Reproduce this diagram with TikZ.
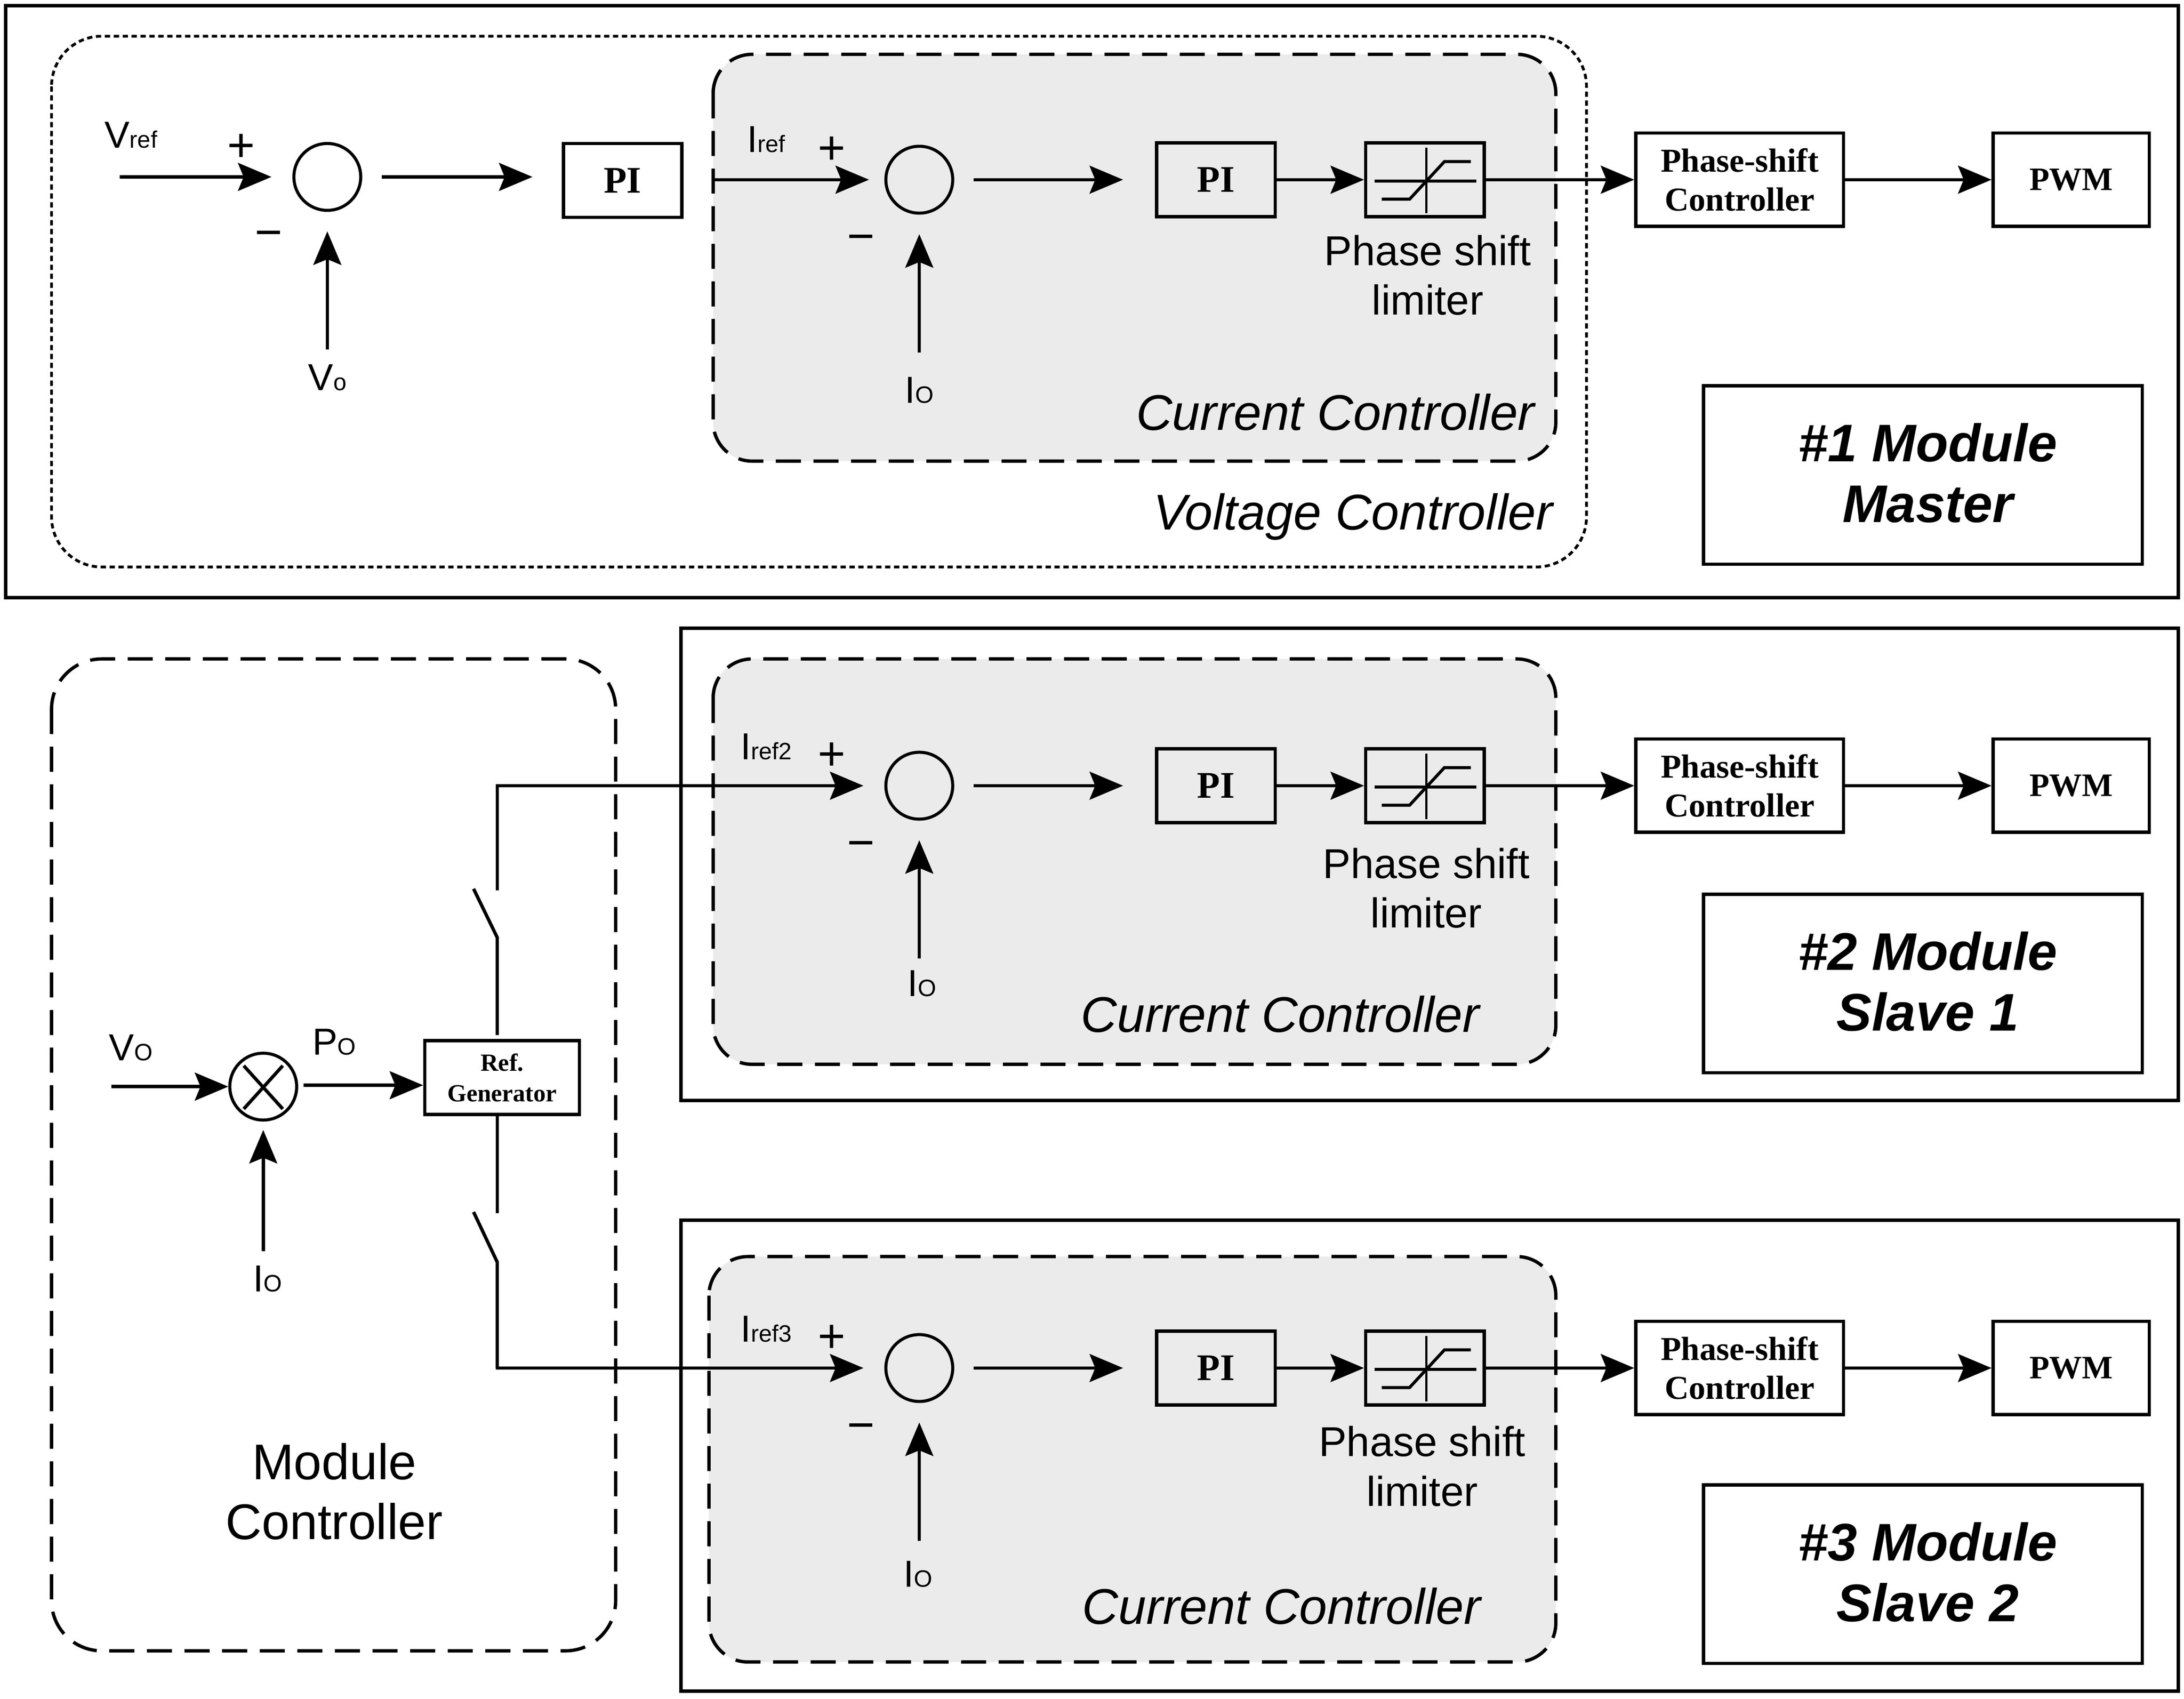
\documentclass[tikz,border=0pt]{standalone}
\usepackage{fontspec}
\setmainfont{Liberation Sans}
\newfontfamily\serifbf{Liberation Serif}
\usetikzlibrary{arrows.meta}
\newcommand{\subs}[1]{{\fontsize{17}{17}\selectfont #1}}
\definecolor{ccgray}{HTML}{EBEBEB}
\tikzset{
  frame/.style={draw,line width=2.5pt,fill=white},
  blk/.style={draw,line width=2.4pt,inner sep=0pt,align=center},
  piblk/.style={blk,minimum width=85pt,minimum height=53pt,font=\fontsize{27}{28}\serifbf\bfseries},
  limblk/.style={blk,minimum width=85pt,minimum height=53pt},
  psblk/.style={blk,minimum width=149pt,minimum height=67pt,font=\fontsize{24}{28}\serifbf\bfseries},
  pwmblk/.style={blk,minimum width=112pt,minimum height=67pt,font=\fontsize{23.5}{26}\serifbf\bfseries},
  refblk/.style={blk,minimum width=111pt,minimum height=53pt,font=\fontsize{17.7}{22}\serifbf\bfseries},
  modblk/.style={blk,minimum width=315pt,minimum height=128pt},
  modtext/.style={inner sep=0pt,align=center,font=\fontsize{38}{43.5}\selectfont\bfseries\itshape},
  sumc/.style={draw,circle,line width=2.2pt,minimum size=48pt,inner sep=0pt},
  ccbox/.style={draw,fill=ccgray,line width=2.4pt,dash pattern=on 18pt off 9pt,rounded corners=28pt},
  vcbox/.style={draw,line width=2pt,dash pattern=on 3.8pt off 2.6pt,rounded corners=36pt},
  mcbox/.style={draw,line width=2.4pt,dash pattern=on 18pt off 9pt,rounded corners=36pt},
  arr/.style={line width=2.4pt,-{Stealth[length=24pt,width=20pt,inset=4pt]}},
  wire/.style={line width=2.4pt},
  lbl/.style={inner sep=0pt,font=\fontsize{27}{30}\selectfont},
  sgn/.style={inner sep=0pt,font=\fontsize{34}{36}\selectfont},
  limcap/.style={inner sep=0pt,align=center,font=\fontsize{30}{35.5}\selectfont},
  ital/.style={inner sep=0pt,font=\fontsize{36}{40}\selectfont\itshape},
  mctext/.style={inner sep=0pt,align=center,font=\fontsize{36}{43}\selectfont},
}
% #1 suffix, #2 row y
\newcommand{\chainrow}[2]{
  \node[sumc] (sum#1) at (660,#2) {};
  \node[piblk] (pi#1) at (873,#2) {PI};
  \node[limblk] (lim#1) at (1023,#2) {};
  \node[psblk] (ps#1) at (1249,#2) {Phase-shift\\Controller};
  \node[pwmblk] (pwm#1) at (1487,#2) {PWM};
  \draw[arr] ([xshift=14pt]sum#1.east) -- ([xshift=-23pt]pi#1.west);
  \draw[arr] (pi#1.east) -- (lim#1.west);
  \draw[arr] (lim#1.east) -- (ps#1.west);
  \draw[arr] (ps#1.east) -- (pwm#1.west);
  \begin{scope}[shift={(lim#1.center)}]
    \draw[line width=2.2pt] (-36,1) -- (37,1);
    \draw[line width=1.6pt] (1,-23) -- (1,24);
    \draw[line width=2.2pt] (-31,14) -- (-11,14) -- (14,-13) -- (33,-13);
  \end{scope}
  \node[sgn] (plus#1) at (597,#2-21) {+};
  \node[sgn] (minus#1) at (618,#2+46) {\textminus};
}
\begin{document}
\begin{tikzpicture}[x=1pt,y=-1pt]
\useasboundingbox (0,0) rectangle (1568,1219.5);
% frames
\node[frame,minimum width=1560pt,minimum height=425pt,inner sep=0pt] (f1) at (784,216.5) {};
\node[frame,minimum width=1075pt,minimum height=339pt,inner sep=0pt] (f2) at (1026.5,620.5) {};
\node[frame,minimum width=1075pt,minimum height=338pt,inner sep=0pt] (f3) at (1026.5,1045) {};
% current controllers
\draw[ccbox] (512,39) rectangle (1117,331);
\draw[ccbox] (512,473) rectangle (1117,764);
\draw[ccbox] (509,902) rectangle (1117,1193);
% voltage and module controller
\draw[vcbox] (37,26) rectangle (1139,407);
\draw[mcbox] (37,473) rectangle (442,1185);

% ---- Module 1
\chainrow{a}{129}
\node[sumc] (sumv) at (235,127) {};
\node[piblk] (piv) at (447,129.5) {PI};
\coordinate (vin) at (86,127);
\coordinate (vo) at (235,251);
\coordinate (ioa) at (660,253);
\coordinate (ccin) at (512,129);
\draw[arr] (vin) -- ([xshift=-15pt]sumv.west);
\draw[arr] ([xshift=14pt]sumv.east) -- ([xshift=-21pt,yshift=2.5pt]piv.west);
\draw[arr] (vo) -- ([yshift=-14pt]sumv.south);
\draw[arr] (ccin) -- ([xshift=-11pt]suma.west);
\draw[arr] (ioa) -- ([yshift=-14pt]suma.south);
\node[lbl] (tvref) at (94,97) {V\subs{ref}};
\node[sgn] (pv) at (173,106) {+};
\node[sgn] (mv) at (193,172) {\textminus};
\node[lbl] (tvo) at (235,271) {V\subs{o}};
\node[lbl] (tiref) at (550,100) {I\subs{ref}};
\node[lbl] (tioa) at (660,280) {I\subs{O}};
\node[limcap] (capa) at (1025,197.5) {Phase shift\\limiter};
\node[ital,anchor=east] (cca) at (1102,296) {Current Controller};
\node[ital,anchor=east] (vca) at (1115,371) {Voltage Controller};
\node[modblk] (moda) at (1380.5,341) {};
\node[modtext] (tmoda) at (1384,339.5) {\#1 Module\\Master};

% ---- Module 2
\chainrow{b}{564}
\coordinate (iob) at (660,688);
\draw[arr] (iob) -- ([yshift=-14pt]sumb.south);
\node[lbl] (tirefb) at (550,536) {I\subs{ref2}};
\node[lbl] (tiob) at (662,706) {I\subs{O}};
\node[limcap] (capb) at (1024,637.5) {Phase shift\\limiter};
\node[ital] (ccb) at (919,728) {Current Controller};
\node[modblk] (modb) at (1380.5,706) {};
\node[modtext] (tmodb) at (1384,704.5) {\#2 Module\\Slave 1};

% ---- Module 3
\chainrow{c}{982}
\coordinate (ioc) at (660,1106);
\draw[arr] (ioc) -- ([yshift=-14pt]sumc.south);
\node[lbl] (tirefc) at (550,954) {I\subs{ref3}};
\node[lbl] (tioc) at (659,1130) {I\subs{O}};
\node[limcap] (capc) at (1021,1052.5) {Phase shift\\limiter};
\node[ital] (ccc) at (920,1153) {Current Controller};
\node[modblk] (modc) at (1380.5,1130) {};
\node[modtext] (tmodc) at (1384,1128.5) {\#3 Module\\Slave 2};

% ---- Module controller
\node[sumc] (mul) at (189,780) {};
\draw[wire] (mul.center) ++(-14,-15) -- ++(28,31);
\draw[wire] (mul.center) ++(14,-15) -- ++(-28,31);
\node[refblk] (ref) at (360.5,773.5) {Ref.\\Generator};
\coordinate (vm) at (80,780);
\coordinate (im) at (189,898);
\draw[arr] (vm) -- (mul.west);
\draw[arr] ([xshift=4pt,yshift=1pt]mul.east) -- ([yshift=-5.5pt]ref.west);
\draw[arr] (im) -- ([yshift=-6pt]mul.south);
\node[lbl] (tvm) at (94,752) {V\subs{O}};
\node[lbl] (tpm) at (240,748) {P\subs{O}};
\node[lbl] (tim) at (192,918) {I\subs{O}};
\node[mctext] (mct) at (240,1070.5) {Module\\Controller};
% switches
\coordinate (su1) at (357,743);
\coordinate (su2) at (357,673);
\coordinate (su3) at (340,638);
\coordinate (su4) at (357,639);
\coordinate (su5) at (357,564);
\coordinate (sd1) at (357,800);
\coordinate (sd2) at (357,871);
\coordinate (sd3) at (340,870);
\coordinate (sd4) at (357,906);
\coordinate (sd5) at (357,982);
\draw[wire] (su1) -- (su2) -- (su3);
\draw[wire] (sd1) -- (sd2);
\draw[wire] (sd3) -- (sd4) -- (sd5);
\draw[arr] (su4) -- (su5) -- ([xshift=-15pt]sumb.west);
\draw[arr] (sd4) -- (sd5) -- ([xshift=-15pt]sumc.west);
\end{tikzpicture}
\end{document}
